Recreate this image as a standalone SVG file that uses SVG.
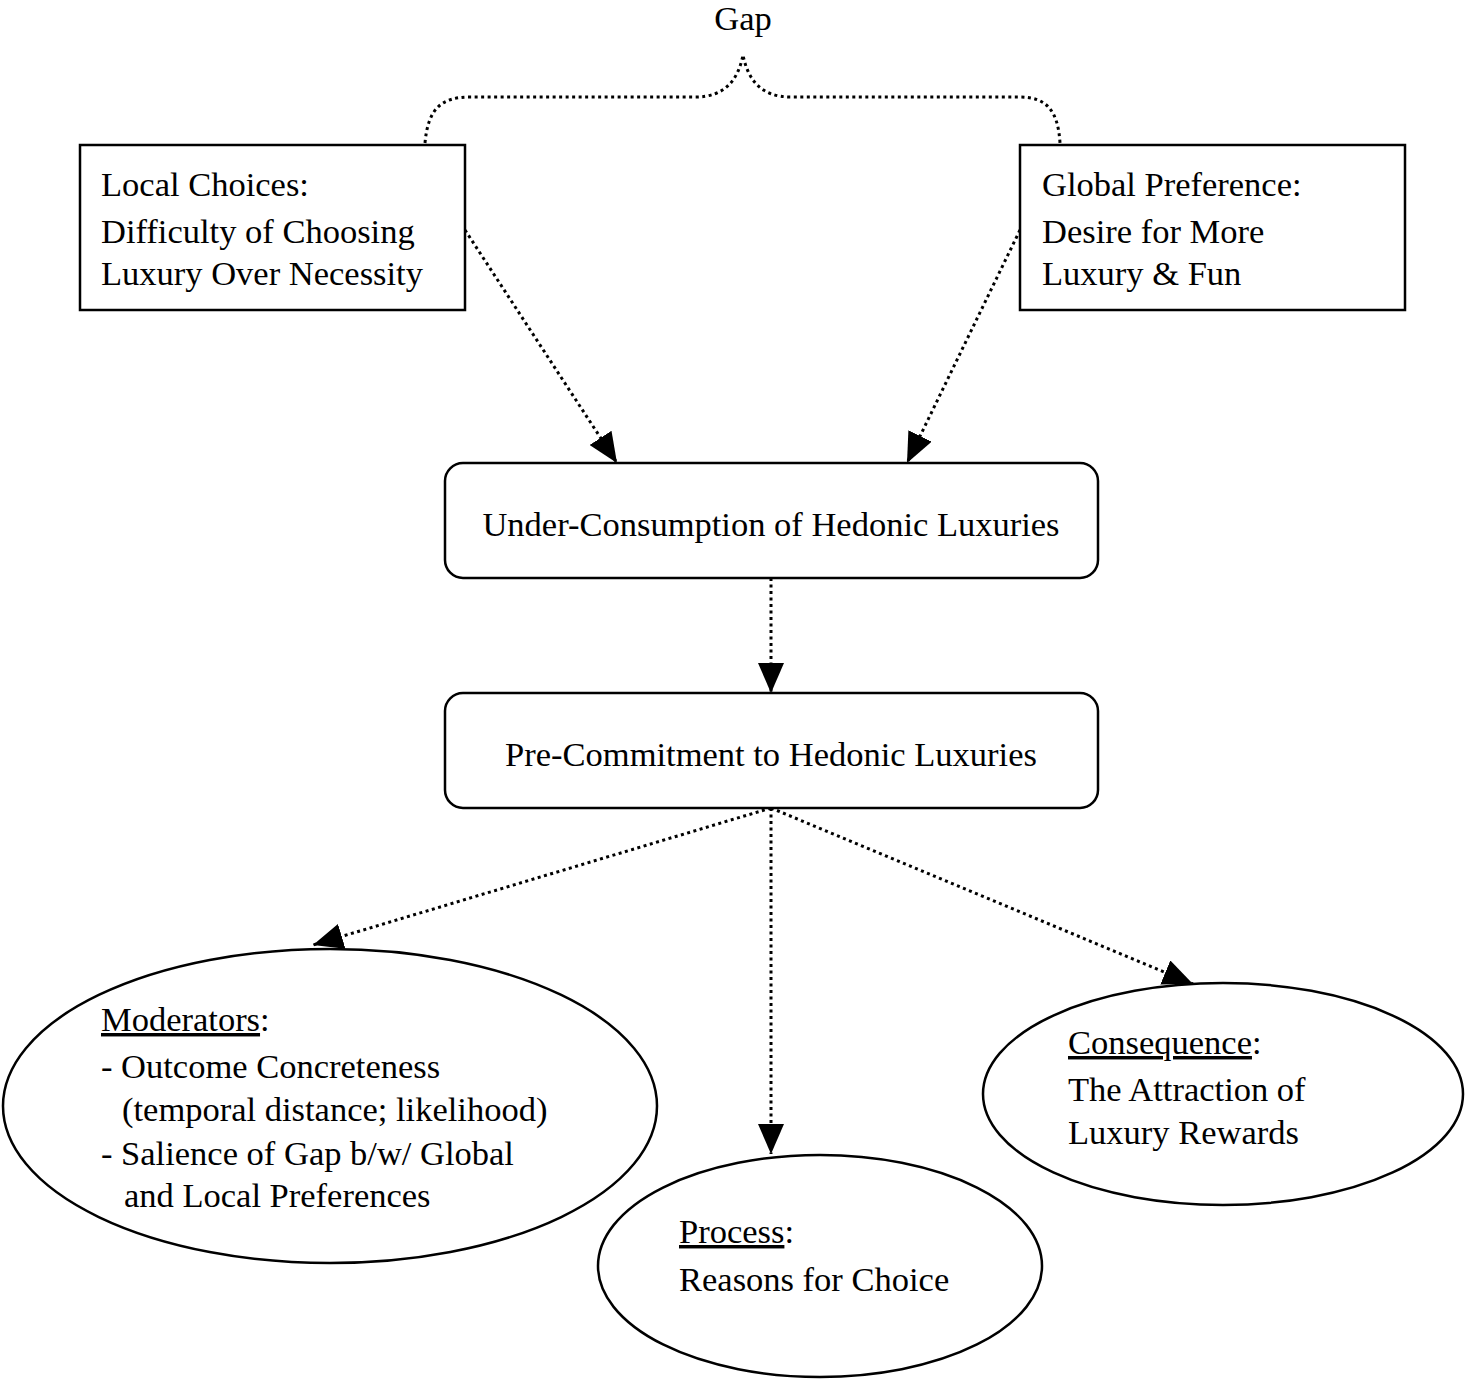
<svg xmlns="http://www.w3.org/2000/svg" width="1465" height="1381" viewBox="0 0 1465 1381">
<style>
text{font-family:"Liberation Serif","Times New Roman",serif;font-size:34.5px;fill:#000}
.box{fill:#fff;stroke:#000;stroke-width:2.5}
.dot{fill:none;stroke:#000;stroke-width:3;stroke-dasharray:3 3.5}
.u{text-decoration:underline}
</style>
<defs>
<marker id="ah" markerUnits="userSpaceOnUse" markerWidth="32" markerHeight="26" refX="30" refY="13" orient="auto">
<path d="M0,0 L30,13 L0,26 Z" fill="#000"/>
</marker>
</defs>
<rect width="1465" height="1381" fill="#fff"/>
<g id="connectors">
<path class="dot" d="M425,143 C428,110 440,97 470,97 L695,97 C725,97 738,80 743,55 C748,80 761,97 791,97 L1020,97 C1046,97 1058,110 1060,143"/>
<line class="dot" x1="465" y1="230" x2="617" y2="463" marker-end="url(#ah)"/>
<line class="dot" x1="1020" y1="230" x2="907" y2="463" marker-end="url(#ah)"/>
<line class="dot" x1="771" y1="578" x2="771" y2="693" marker-end="url(#ah)"/>
<line class="dot" x1="771" y1="808" x2="313" y2="945" marker-end="url(#ah)"/>
<line class="dot" x1="771" y1="808" x2="771" y2="1154" marker-end="url(#ah)"/>
<line class="dot" x1="771" y1="808" x2="1193" y2="984" marker-end="url(#ah)"/>
</g>
<g id="gap"><text x="743" y="30" text-anchor="middle">Gap</text></g>
<g id="local">
<rect class="box" x="80" y="145" width="385" height="165"/>
<text x="101" y="196">Local Choices:</text>
<text x="101" y="243">Difficulty of Choosing</text>
<text x="101" y="285">Luxury Over Necessity</text>
</g>
<g id="global">
<rect class="box" x="1020" y="145" width="385" height="165"/>
<text x="1042" y="196">Global Preference:</text>
<text x="1042" y="243">Desire for More</text>
<text x="1042" y="285">Luxury &amp; Fun</text>
</g>
<g id="under">
<rect class="box" x="445" y="463" width="653" height="115" rx="18"/>
<text x="771" y="536" text-anchor="middle">Under-Consumption of Hedonic Luxuries</text>
</g>
<g id="pre">
<rect class="box" x="445" y="693" width="653" height="115" rx="18"/>
<text x="771" y="766" text-anchor="middle">Pre-Commitment to Hedonic Luxuries</text>
</g>
<g id="moderators">
<ellipse class="box" cx="330" cy="1106" rx="327" ry="157"/>
<text x="101" y="1031"><tspan class="u">Moderators</tspan>:</text>
<text x="101" y="1078">- Outcome Concreteness</text>
<text x="122" y="1121">(temporal distance; likelihood)</text>
<text x="101" y="1165">- Salience of Gap b/w/ Global</text>
<text x="124" y="1207">and Local Preferences</text>
</g>
<g id="process">
<ellipse class="box" cx="820" cy="1266" rx="222" ry="111"/>
<text x="679" y="1243"><tspan class="u">Process</tspan>:</text>
<text x="679" y="1291">Reasons for Choice</text>
</g>
<g id="consequence">
<ellipse class="box" cx="1223" cy="1094" rx="240" ry="111"/>
<text x="1068" y="1054"><tspan class="u">Consequence</tspan>:</text>
<text x="1068" y="1101">The Attraction of</text>
<text x="1068" y="1144">Luxury Rewards</text>
</g>
</svg>
